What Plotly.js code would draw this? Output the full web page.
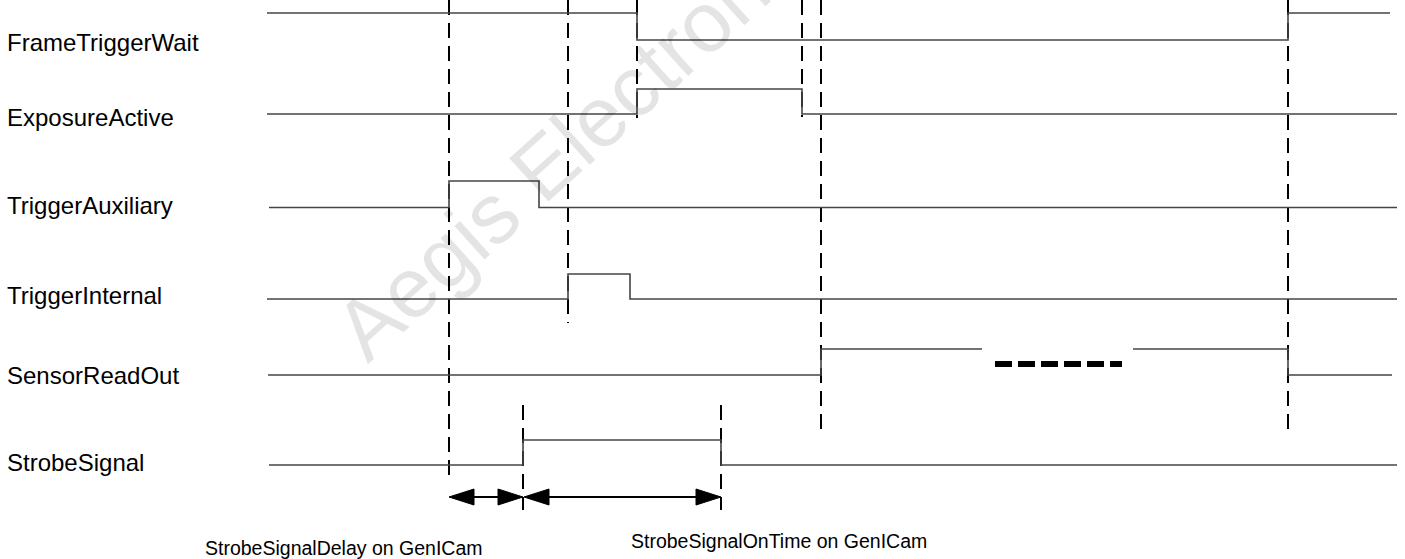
<!DOCTYPE html>
<html>
<head>
<meta charset="utf-8">
<script src="https://cdn.plot.ly/plotly-3.0.1.min.js"></script>
<style>
  html, body { margin: 0; padding: 0; background: #ffffff; }
  #chart { width: 1405px; height: 559px; }
</style>
</head>
<body>
<div id="chart"></div>
<script>
// ---------------- data ----------------
const signalNames = ['FrameTriggerWait', 'ExposureActive', 'TriggerAuxiliary', 'TriggerInternal', 'SensorReadOut', 'StrobeSignal'];

// edge times (time units) and logic state after each point (1 = high, 0 = low)
const frameTriggerWaitTime  = [267, 637, 1288, 1390];
const frameTriggerWaitState = [1, 0, 1, 1];
const exposureActiveTime    = [267, 637, 802, 1397];
const exposureActiveState   = [0, 1, 0, 0];
const triggerAuxiliaryTime  = [269, 449, 539, 1397];
const triggerAuxiliaryState = [0, 1, 0, 0];
const triggerInternalTime   = [267, 568, 630, 1397];
const triggerInternalState  = [0, 1, 0, 0];
const sensorReadOutTime     = [268, 821, 982, null, 1133, 1288, 1392];
const sensorReadOutState    = [0, 1, 1, null, 1, 0, 0];
const strobeSignalTime      = [269, 523, 721, 1397];
const strobeSignalState     = [0, 1, 0, 0];

// reference instants marked with dashed verticals
const markerTime = [449, 568, 637, 802, 821, 1288, 523, 721];

// measured intervals
const intervalLabels = ['StrobeSignalDelay on GenICam', 'StrobeSignalOnTime on GenICam'];
const intervalStart  = [449, 524];
const intervalEnd    = [523, 721];

// omitted part of the readout
const ellipsisStart = 995;
const ellipsisEnd   = 1122;

const watermarkText = 'Aegis Electronics';

// ---------------- layout / style (positions in px) ----------------
const laneLow   = [40, 114, 207.5, 299, 375, 465];
const laneHigh  = [13, 89, 181, 274, 349, 440];
const laneLabelY = [42, 117, 205.5, 295, 375, 462];
const markerTop    = [0, 0, 0, 0, 0, 0, 405, 405];
const markerBottom = [475, 323, 118, 117, 432, 432, 510, 510];
const arrowY = 497;
const headLen = 25, headHalf = 8;
const intervalLabelX = [343.5, 779];
const intervalLabelY = [548, 541];
const ellipsisY = 364;

const signalTimes  = [frameTriggerWaitTime, exposureActiveTime, triggerAuxiliaryTime, triggerInternalTime, sensorReadOutTime, strobeSignalTime];
const signalStates = [frameTriggerWaitState, exposureActiveState, triggerAuxiliaryState, triggerInternalState, sensorReadOutState, strobeSignalState];

const traces = [];

// dashed reference lines
markerTime.forEach((t, i) => {
  traces.push({
    type: 'scatter', mode: 'lines',
    x: [t, t], y: [markerTop[i], markerBottom[i]],
    line: { color: '#000000', width: 2, dash: '15px,8px' },
    hoverinfo: 'skip', showlegend: false
  });
});

// signal waveforms
signalNames.forEach((name, i) => {
  const ys = signalStates[i].map(s => s === null ? null : (s ? laneHigh[i] : laneLow[i]));
  traces.push({
    type: 'scatter', mode: 'lines', name: name,
    x: signalTimes[i], y: ys,
    line: { color: '#454545', width: 1.6, shape: 'hv' },
    connectgaps: false, hoverinfo: 'skip', showlegend: false
  });
});

// ellipsis
traces.push({
  type: 'scatter', mode: 'lines',
  x: [ellipsisStart, ellipsisEnd], y: [ellipsisY, ellipsisY],
  line: { color: '#000000', width: 6, dash: '17px,6px' },
  hoverinfo: 'skip', showlegend: false
});

// interval arrows
intervalStart.forEach((s, i) => {
  const e = intervalEnd[i];
  traces.push({
    type: 'scatter', mode: 'lines',
    x: [s + headLen - 2, e - headLen + 2], y: [arrowY, arrowY],
    line: { color: '#000000', width: 2 },
    hoverinfo: 'skip', showlegend: false
  });
  traces.push({
    type: 'scatter', mode: 'lines', fill: 'toself', fillcolor: '#000000',
    x: [s, s + headLen, s + headLen, s, null, e, e - headLen, e - headLen, e],
    y: [arrowY, arrowY - headHalf, arrowY + headHalf, arrowY, null, arrowY, arrowY - headHalf, arrowY + headHalf, arrowY],
    line: { color: '#000000', width: 1 },
    hoverinfo: 'skip', showlegend: false
  });
});

const annotations = [];
signalNames.forEach((name, i) => {
  annotations.push({
    x: 5, y: laneLabelY[i], xref: 'x', yref: 'y',
    text: name, showarrow: false, xanchor: 'left', yanchor: 'middle',
    font: { family: 'Liberation Sans, Arial, sans-serif', size: 24, color: '#000000' }
  });
});
intervalLabels.forEach((txt, i) => {
  annotations.push({
    x: intervalLabelX[i], y: intervalLabelY[i], xref: 'x', yref: 'y',
    text: txt, showarrow: false, xanchor: 'center', yanchor: 'middle',
    font: { family: 'Liberation Sans, Arial, sans-serif', size: 19.5, color: '#000000' }
  });
});
annotations.push({
  x: 590, y: 124, xref: 'x', yref: 'y',
  text: watermarkText, showarrow: false, xanchor: 'center', yanchor: 'middle',
  textangle: -42,
  font: { family: 'Liberation Sans, Arial, sans-serif', size: 85, color: 'rgba(0,0,0,0.105)' }
});

const layout = {
  width: 1405, height: 559,
  margin: { l: 0, r: 0, t: 0, b: 0, pad: 0 },
  paper_bgcolor: '#ffffff', plot_bgcolor: '#ffffff',
  xaxis: { range: [0, 1405], visible: false, fixedrange: true },
  yaxis: { range: [559, 0], visible: false, fixedrange: true },
  showlegend: false,
  annotations: annotations
};

Plotly.newPlot('chart', traces, layout, { displayModeBar: false, staticPlot: true });
</script>
</body>
</html>
